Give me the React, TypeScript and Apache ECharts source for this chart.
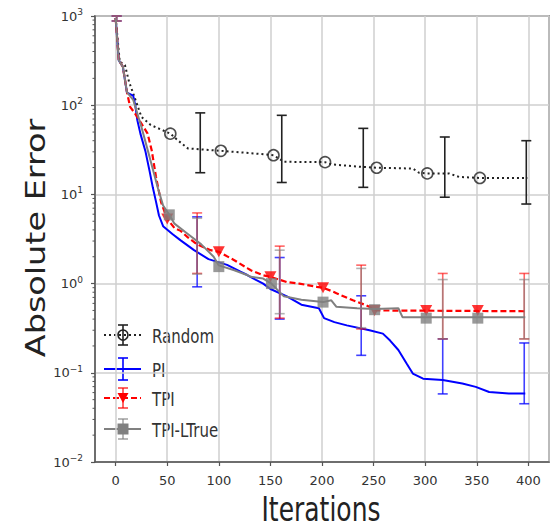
import React, { useEffect, useRef } from "react";
import * as echarts from "echarts";

// ---- data (iteration, absolute error) ----
const randomLine: [number, number][] = [
  [0, 950], [4, 307], [9, 282], [13, 183], [17, 136], [25, 74], [34, 60], [53, 48],
  [60, 40.6], [70, 32.8], [102, 30.8], [134, 28.8], [153, 27.5], [163, 23.2], [203, 23],
  [209, 21.7], [237, 20.4], [253, 19.9], [288, 19.5], [294, 17.5], [302, 17.2], [323, 17.2],
  [333, 15.7], [353, 15.3], [399, 15.3],
];
const randomMarks: [number, number][] = [
  [53, 48], [102, 30.8], [153, 27.5], [203, 23], [253, 19.9], [302, 17.2], [353, 15.3],
];
const randomErr: [number, number, number][] = [
  [82, 17.5, 82], [161, 13.6, 77], [240, 12, 55], [319, 9.3, 44], [398, 7.8, 40],
];

const piLine: [number, number][] = [
  [0, 950], [3, 320], [7, 270], [11, 138], [17, 128], [19, 100], [21, 68], [24, 48],
  [29, 30], [33, 18], [36, 12], [39, 8.4], [42, 5.8], [46, 4.4], [55, 3.6], [63, 3.05],
  [76, 2.37], [90, 1.88], [108, 1.62], [121, 1.36], [128, 1.24], [136, 1.1], [143, 1.0],
  [150, 0.87], [166, 0.72], [180, 0.58], [197, 0.53], [202, 0.41], [212, 0.37], [224, 0.34],
  [246, 0.3], [259, 0.275], [266, 0.23], [274, 0.18], [282, 0.127], [288, 0.098],
  [298, 0.086], [317, 0.083], [336, 0.076], [349, 0.0695], [362, 0.061], [381, 0.0585],
  [397, 0.0585],
];
const piErr: [number, number, number][] = [
  [1, 880, 1000], [79, 0.92, 5.6], [159, 0.4, 1.96], [238, 0.157, 0.73], [317, 0.058, 0.24],
  [396, 0.045, 0.216],
];

const tpiLine: [number, number][] = [
  [0, 950], [3, 320], [7, 270], [11, 140], [14, 96], [19, 80], [23, 68], [31, 48], [35, 31],
  [39, 16], [44, 8.2], [50, 5.3], [57, 4.2], [63, 3.9], [70, 3.3], [79, 2.75], [92, 2.37],
  [100, 2.27], [115, 1.83], [128, 1.48], [131, 1.41], [143, 1.24], [150, 1.19], [166, 1.04],
  [178, 1.0], [195, 0.92], [201, 0.9], [211, 0.81], [214, 0.78], [230, 0.65], [243, 0.57],
  [253, 0.5], [397, 0.49],
];
const tpiMarks: [number, number][] = [
  [50, 5.3], [100, 2.27], [150, 1.19], [201, 0.9], [251, 0.5], [301, 0.5], [351, 0.5],
];
const tpiErr: [number, number, number][] = [
  [1, 880, 1000], [79, 1.3, 6.2], [159, 0.41, 2.63], [238, 0.31, 1.61], [317, 0.24, 1.3],
  [396, 0.24, 1.3],
];

const ltrueLine: [number, number][] = [
  [0, 950], [3, 320], [7, 270], [11, 140], [17, 115], [25, 57], [33, 26], [41, 11.7],
  [46, 7.5], [52, 5.9], [57, 4.7], [70, 3.6], [83, 2.75], [95, 2.0], [100, 1.6], [115, 1.41],
  [128, 1.24], [131, 1.19], [143, 1.14], [151, 1.0], [163, 0.72], [180, 0.66], [201, 0.62],
  [209, 0.65], [214, 0.55], [234, 0.53], [251, 0.52], [274, 0.53], [278, 0.42], [397, 0.42],
];
const ltrueMarks: [number, number][] = [
  [52, 5.9], [100, 1.55], [151, 1.0], [201, 0.62], [251, 0.51], [301, 0.41], [351, 0.41],
];
const ltrueErr: [number, number, number][] = [
  [1, 880, 1000], [79, 1.28, 5.4], [159, 0.46, 2.37], [238, 0.32, 1.48], [317, 0.24, 1.11],
  [396, 0.24, 1.11],
];

const legendNames = ["Random", "PI", "TPI", "TPI-LTrue"];
const decades = [0.01, 0.1, 1, 10, 100];
const minorSteps = [2, 3, 4, 5, 6, 7, 8, 9];

const FONT = "DejaVu Sans";
const BLUE = "#0000ff";
const RED = "#ff0000";
const GRAY = "#808080";
const BLACK = "#222222";
const SPINE = "#555555";
const GRID = "#cfcfcf";

function errorSeries(name: string, data: [number, number, number][], stroke: string, z: number) {
  return {
    type: "custom",
    name,
    data,
    z,
    silent: true,
    encode: { x: 0, y: [1, 2] },
    renderItem: (_params: any, api: any) => {
      const x = api.value(0);
      const top = api.coord([x, api.value(2)]);
      const bot = api.coord([x, api.value(1)]);
      const hw = 5;
      const style = { stroke, lineWidth: 1.6, fill: "none" };
      return {
        type: "group",
        children: [
          { type: "line", shape: { x1: top[0], y1: top[1], x2: bot[0], y2: bot[1] }, style },
          { type: "line", shape: { x1: top[0] - hw, y1: top[1], x2: top[0] + hw, y2: top[1] }, style },
          { type: "line", shape: { x1: bot[0] - hw, y1: bot[1], x2: bot[0] + hw, y2: bot[1] }, style },
        ],
      };
    },
  };
}

function lineSeries(name: string, data: [number, number][], color: string, type: any, width: number, z: number) {
  return {
    type: "line",
    name,
    data,
    z,
    symbol: "none",
    showSymbol: false,
    silent: true,
    lineStyle: { color, width, type, cap: "butt" },
  };
}

// legend handle: line sample, small error bar, marker and label
function legendRow(i: number, y: number, color: string, dash: number[] | null, marker: any, barColor: string, barHalf: number) {
  const x0 = 104;
  const x1 = 141;
  const cx = 123;
  const lineStyle: any = { stroke: color, lineWidth: 2 };
  if (dash) lineStyle.lineDash = dash;
  const bar = { stroke: barColor, lineWidth: 1.6 };
  const items: any[] = [
    { type: "line", shape: { x1: x0, y1: y, x2: x1, y2: y }, style: lineStyle },
    { type: "line", shape: { x1: cx, y1: y - barHalf, x2: cx, y2: y + barHalf }, style: bar },
    { type: "line", shape: { x1: cx - 5, y1: y - barHalf, x2: cx + 5, y2: y - barHalf }, style: bar },
    { type: "line", shape: { x1: cx - 5, y1: y + barHalf, x2: cx + 5, y2: y + barHalf }, style: bar },
  ];
  if (marker) items.push(marker(cx, y));
  items.push({
    type: "text",
    x: 152,
    y: y + 1,
    scaleY: 1.35,
    style: {
      text: legendNames[i],
      fontSize: 15,
      fontFamily: FONT,
      fill: "#333333",
      textAlign: "left",
      verticalAlign: "middle",
    },
  });
  return items;
}

export default function App() {
  const ref = useRef<HTMLDivElement>(null);

  useEffect(() => {
    if (!ref.current) return;
    const chart = echarts.init(ref.current, undefined, { renderer: "svg" });

    const minorValues: [number, number][] = [];
    decades.forEach((d) => minorSteps.forEach((m) => minorValues.push([-20, d * m])));

    const legend: any[] = [
      ...legendRow(0, 335, BLACK, [2, 3], (cx: number, y: number) => ({
        type: "circle",
        shape: { cx, cy: y, r: 5 },
        style: { fill: "none", stroke: BLACK, lineWidth: 1.6 },
      }), BLACK, 10),
      ...legendRow(1, 369, BLUE, null, null, BLUE, 11),
      ...legendRow(2, 398, RED, [6, 3], (cx: number, y: number) => ({
        type: "polygon",
        shape: { points: [[cx - 5.5, y - 5], [cx + 5.5, y - 5], [cx, y + 5]] },
        style: { fill: RED },
      }), "rgba(255,0,0,0.75)", 10),
      ...legendRow(3, 429, GRAY, null, (cx: number, y: number) => ({
        type: "rect",
        shape: { x: cx - 5.5, y: y - 5.5, width: 11, height: 11 },
        style: { fill: GRAY },
      }), "rgba(128,128,128,0.7)", 10),
    ];

    chart.setOption({
      animation: false,
      backgroundColor: "#ffffff",
      textStyle: { fontFamily: FONT },
      grid: {
        left: 95,
        top: 16,
        right: 7,
        bottom: 66,
        show: true,
        borderColor: SPINE,
        borderWidth: 1.5,
        backgroundColor: "transparent",
        containLabel: false,
        outerBoundsMode: "none",
      },
      xAxis: {
        type: "value",
        min: -20,
        max: 420,
        splitNumber: 9,
        axisLine: { show: true, onZero: false, lineStyle: { color: SPINE, width: 1.5 } },
        axisTick: { show: true, inside: false, length: 4, lineStyle: { color: SPINE, width: 1.2 } },
        axisLabel: {
          showMinLabel: false,
          showMaxLabel: false,
          margin: 12,
          fontSize: 13,
          color: "#333333",
          fontFamily: FONT,
        },
        splitLine: { show: true, lineStyle: { color: GRID, width: 1.5 } },
      },
      yAxis: {
        type: "log",
        logBase: 10,
        min: 0.01,
        max: 1000,
        splitNumber: 5,
        axisLine: { show: true, onZero: false, lineStyle: { color: SPINE, width: 1.5 } },
        axisTick: { show: true, inside: false, length: 4, lineStyle: { color: SPINE, width: 1.2 } },
        axisLabel: {
          margin: 12,
          color: "#333333",
          formatter: (v: number) => {
            const e = Math.round(Math.log10(v));
            const s = e < 0 ? "\u2212" + String(-e) : String(e);
            return `{b|10}{s|${s}}`;
          },
          rich: {
            b: { fontSize: 13, color: "#333333", fontFamily: FONT },
            s: { fontSize: 9, color: "#333333", fontFamily: FONT, padding: [0, 0, 8, 0] },
          },
        },
        splitLine: { show: true, lineStyle: { color: GRID, width: 1.5 } },
      },
      series: [
        {
          type: "custom",
          name: "minor",
          data: minorValues,
          silent: true,
          z: 1,
          encode: { x: 0, y: 1 },
          renderItem: (_p: any, api: any) => {
            const p = api.coord([api.value(0), api.value(1)]);
            return {
              type: "line",
              shape: { x1: p[0] - 2.5, y1: p[1], x2: p[0], y2: p[1] },
              style: { stroke: SPINE, lineWidth: 1 },
            };
          },
        },
        lineSeries("Random", randomLine, BLACK, [2, 3], 2, 3),
        errorSeries("Random err", randomErr, BLACK, 3),
        {
          type: "scatter",
          name: "Random marks",
          data: randomMarks,
          z: 4,
          silent: true,
          symbol: "circle",
          symbolSize: 11,
          itemStyle: { color: "rgba(0,0,0,0)", borderColor: BLACK, borderWidth: 1.6 },
        },
        lineSeries("PI", piLine, BLUE, "solid", 2, 5),
        errorSeries("PI err", piErr, "rgba(0,0,255,0.75)", 5),
        lineSeries("TPI", tpiLine, RED, [6, 3], 2.2, 6),
        errorSeries("TPI err", tpiErr, "rgba(255,0,0,0.6)", 6),
        {
          type: "scatter",
          name: "TPI marks",
          data: tpiMarks,
          z: 6,
          silent: true,
          symbol: "triangle",
          symbolRotate: 180,
          symbolSize: [12, 11],
          itemStyle: { color: RED },
        },
        lineSeries("TPI-LTrue", ltrueLine, GRAY, "solid", 2, 7),
        errorSeries("TPI-LTrue err", ltrueErr, "rgba(128,128,128,0.6)", 7),
        {
          type: "scatter",
          name: "TPI-LTrue marks",
          data: ltrueMarks,
          z: 7,
          silent: true,
          symbol: "rect",
          symbolSize: 11,
          itemStyle: { color: GRAY },
        },
      ],
      graphic: [
        ...legend,
        {
          type: "text",
          x: 36,
          y: 238,
          rotation: Math.PI / 2,
          scaleX: 1.24,
          style: {
            text: "Absolute Error",
            fontSize: 27,
            fontFamily: FONT,
            fill: "#222222",
            textAlign: "center",
            verticalAlign: "middle",
          },
        },
        {
          type: "text",
          x: 321,
          y: 509,
          scaleY: 1.35,
          style: {
            text: "Iterations",
            fontSize: 25,
            fontFamily: FONT,
            fill: "#222222",
            textAlign: "center",
            verticalAlign: "middle",
          },
        },
      ],
    });

    return () => chart.dispose();
  }, []);

  return (
    <div
      ref={ref}
      style={{ position: "fixed", left: 0, top: 0, width: 556, height: 528, background: "#fff" }}
    />
  );
}
